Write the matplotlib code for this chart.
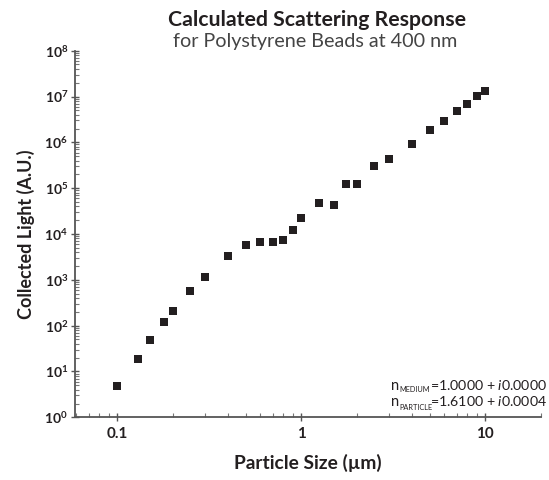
import matplotlib
matplotlib.use("Agg")
import matplotlib.pyplot as plt
from matplotlib.ticker import LogLocator, FixedLocator, NullFormatter

plt.rcParams['font.family'] = ['Lato', 'DejaVu Sans']
plt.rcParams['mathtext.fontset'] = 'custom'
plt.rcParams['mathtext.rm'] = 'Lato'
plt.rcParams['mathtext.it'] = 'Lato:italic'
plt.rcParams['mathtext.bf'] = 'Lato:bold'

particle_size = [0.1, 0.13, 0.15, 0.18, 0.2, 0.25, 0.3, 0.4, 0.5, 0.6, 0.7, 0.8, 0.9, 1.0,
                 1.25, 1.5, 1.75, 2.0, 2.5, 3.0, 4.0, 5.0, 6.0, 7.0, 8.0, 9.0, 10.0]
collected_light = [4.8, 18.4, 49, 122, 209, 570, 1170, 3260, 5750, 6700, 6580, 7390, 12000, 22600,
                   48200, 42900, 121000, 125000, 300000, 440000, 919000, 1.86e6, 2.92e6, 4.75e6,
                   6.96e6, 1.04e7, 1.32e7]
x_ticks = [0.1, 1, 10]
x_tick_labels = ['0.1', '1', '10']
y_ticks = [1e0, 1e1, 1e2, 1e3, 1e4, 1e5, 1e6, 1e7, 1e8]
y_tick_labels = [r'$\mathbf{10^{%d}}$' % i for i in range(9)]
index_labels = ['MEDIUM', 'PARTICLE']
index_values = [r'=1.0000 + $\mathit{i}$0.0000', r'=1.6100 + $\mathit{i}$0.0004']

W, H = 549, 480
fig = plt.figure(figsize=(W / 100, H / 100), dpi=100)
ax = fig.add_axes([75 / W, (H - 417.3) / H, (540.7 - 75) / W, (417.3 - 50.7) / H])

ink = '#231f20'
ax.plot(particle_size, collected_light, linestyle='none', marker='s', markersize=5.2,
        color=ink, markeredgewidth=0)

ax.set_xscale('log')
ax.set_yscale('log')
ax.set_xlim(0.059, 20)
ax.set_ylim(1, 1e8)

for s in ['top', 'right']:
    ax.spines[s].set_visible(False)
for s in ['left', 'bottom']:
    ax.spines[s].set_color('#555555')
    ax.spines[s].set_linewidth(1.3)

ax.xaxis.set_major_locator(FixedLocator(x_ticks))
ax.set_xticklabels(x_tick_labels)
ax.yaxis.set_major_locator(FixedLocator(y_ticks))
ax.set_yticklabels(y_tick_labels)
ax.xaxis.set_minor_locator(LogLocator(base=10, subs=range(2, 10)))
ax.yaxis.set_minor_locator(LogLocator(base=10, subs=range(2, 10)))
ax.xaxis.set_minor_formatter(NullFormatter())
ax.yaxis.set_minor_formatter(NullFormatter())

ax.tick_params(axis='both', which='major', direction='inout', length=6, width=1, color='#555555',
               labelcolor=ink, pad=4)
ax.tick_params(axis='both', which='minor', direction='in', length=3, width=0.8, color='#777777')
ax.tick_params(axis='x', which='major', labelsize=11)
ax.tick_params(axis='y', which='major', labelsize=10, pad=2)
for lab in ax.get_xticklabels():
    lab.set_fontweight('bold')

ax.set_xlabel('Particle Size (µm)', fontsize=13.8, fontweight='bold', color=ink, labelpad=9)
ax.set_ylabel('Collected Light (A.U.)', fontsize=13, fontweight='bold', color=ink, labelpad=7)

fig.text(317 / W, 1 - 20 / H, 'Calculated Scattering Response', ha='center', va='center',
         fontsize=15.3, fontweight='bold', color=ink)
fig.text(315 / W, 1 - 42 / H, 'for Polystyrene Beads at 400 nm', ha='center', va='center',
         fontsize=14.2, color='#444444')

# refractive index annotation built from pieces ("n", small subscript, value text)
fig.canvas.draw()
renderer = fig.canvas.get_renderer()
baselines = [389.5, 406.5]
for lab, val, yb in zip(index_labels, index_values, baselines):
    t_n = fig.text(390.5 / W, 1 - yb / H, 'n', ha='left', va='baseline',
                   fontsize=10.5, color=ink)
    xn = t_n.get_window_extent(renderer).x1
    fig.text((xn + 0.6) / W, 1 - (yb + 3) / H, lab, ha='left', va='baseline',
             fontsize=5.3, color=ink)
    fig.text(547 / W, 1 - yb / H, val, ha='right', va='baseline',
             fontsize=10.2, color=ink)

fig.savefig('out.png', dpi=100)
